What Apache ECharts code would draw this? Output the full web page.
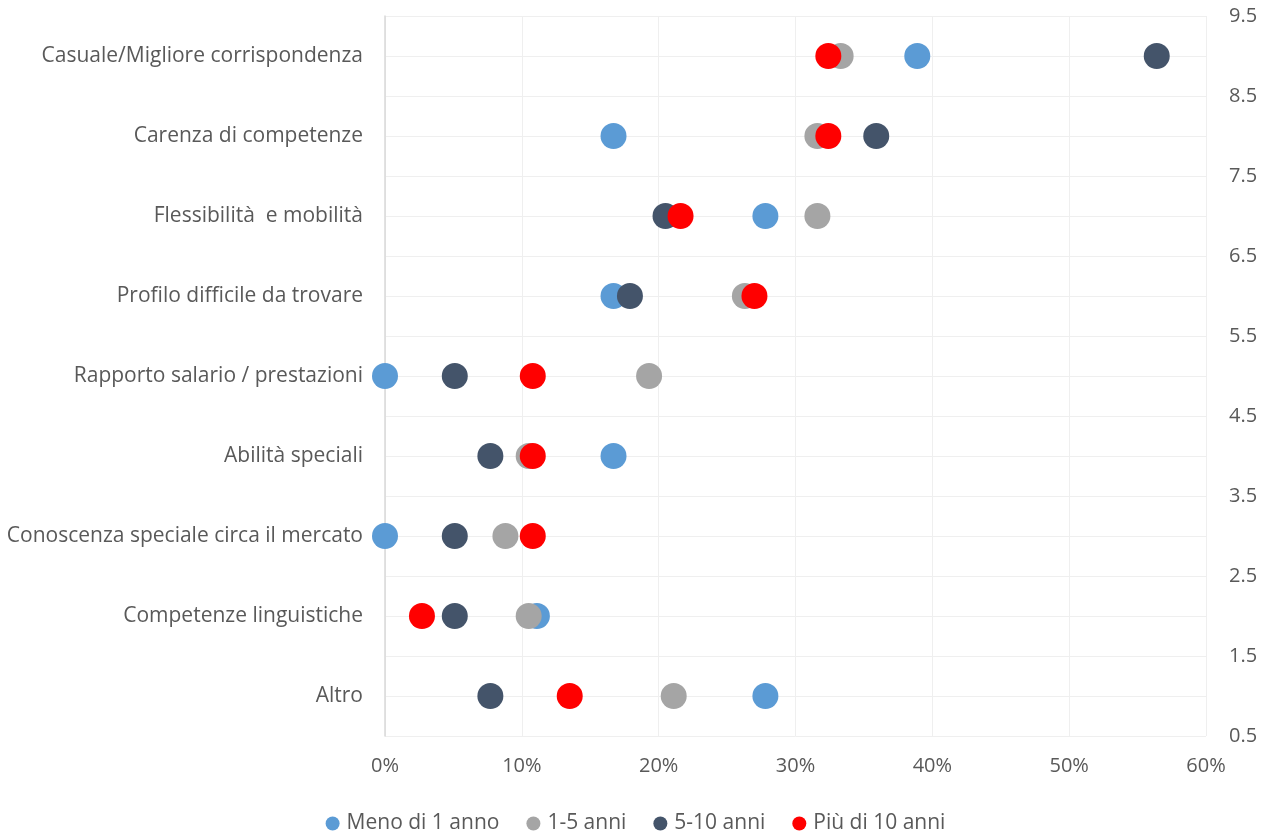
<!DOCTYPE html>
<html>
<head>
<meta charset="utf-8">
<script src="https://cdn.jsdelivr.net/npm/echarts@6/dist/echarts.min.js"></script>
<style>
html,body{margin:0;padding:0;background:#fff;}
#chart{width:1271px;height:832px;}
</style>
</head>
<body>
<div id="chart"></div>
<script>
// Categories, top to bottom
var categories = [
  'Casuale/Migliore corrispondenza',
  'Carenza di competenze',
  'Flessibilità  e mobilità',
  'Profilo difficile da trovare',
  'Rapporto salario / prestazioni',
  'Abilità speciali',
  'Conoscenza speciale circa il mercato',
  'Competenze linguistiche',
  'Altro'
];
var seriesNames = ['Meno di 1 anno', '1-5 anni', '5-10 anni', 'Più di 10 anni'];
// values (share), in the same order as categories
var meno1 = [0.389, 0.167, 0.278, 0.167, 0.000, 0.167, 0.000, 0.111, 0.278];
var anni1_5 = [0.333, 0.316, 0.316, 0.263, 0.193, 0.105, 0.088, 0.105, 0.211];
var anni5_10 = [0.564, 0.359, 0.205, 0.179, 0.051, 0.077, 0.051, 0.051, 0.077];
var piu10 = [0.324, 0.324, 0.216, 0.270, 0.108, 0.108, 0.108, 0.027, 0.135];
var xTicks = [0, 0.1, 0.2, 0.3, 0.4, 0.5, 0.6];
var colors = ['#5B9BD5', '#A5A5A5', '#44546A', '#FF0000'];

var n = categories.length;
function pts(arr) {
  return arr.map(function (v, i) { return [v, n - i]; });
}
var allValues = [meno1, anni1_5, anni5_10, piu10];
var font = "'Open Sans', 'Noto Sans', sans-serif";

var chart = echarts.init(document.getElementById('chart'), null, {renderer: 'canvas'});
chart.setOption({
  animation: false,
  backgroundColor: '#ffffff',
  grid: {left: 385, right: 65, top: 16, bottom: 96, containLabel: false},
  legend: {
    top: 808,
    left: 'center',
    icon: 'circle',
    itemWidth: 14,
    itemHeight: 14,
    itemGap: 27,
    textStyle: {color: '#595959', fontSize: 21, fontFamily: font, padding: [0, 0, 0, 2]},
    data: seriesNames
  },
  xAxis: {
    type: 'value',
    min: xTicks[0],
    max: xTicks[xTicks.length - 1],
    interval: 0.1,
    axisLine: {show: false},
    axisTick: {show: false},
    splitLine: {show: true, lineStyle: {color: '#efefef', width: 1}},
    axisLabel: {
      color: '#595959', fontSize: 20, fontFamily: font, margin: 20,
      formatter: function (v) { return Math.round(v * 100) + '%'; }
    }
  },
  yAxis: [{
    type: 'value',
    position: 'left',
    min: 0.5,
    max: 9.5,
    interval: 0.5,
    axisLine: {show: true, lineStyle: {color: '#d9d9d9', width: 1.5}},
    axisTick: {show: false},
    splitLine: {show: true, lineStyle: {color: '#efefef', width: 1}},
    axisLabel: {
      color: '#595959', fontSize: 21, fontFamily: font, margin: 22,
      formatter: function (v) {
        if (Math.abs(v - Math.round(v)) < 1e-6) {
          var idx = n - Math.round(v);
          return categories[idx] || '';
        }
        return '';
      }
    }
  }, {
    type: 'value',
    position: 'right',
    min: 0.5,
    max: 9.5,
    interval: 0.5,
    axisLine: {show: false},
    axisTick: {show: false},
    splitLine: {show: false},
    axisLabel: {
      color: '#595959', fontSize: 20, fontFamily: font, margin: 23,
      formatter: function (v) {
        if (Math.abs(v - Math.round(v)) > 1e-6) { return v.toFixed(1); }
        return '';
      }
    }
  }],
  series: seriesNames.map(function (name, k) {
    return {
      name: name,
      type: 'scatter',
      yAxisIndex: 0,
      symbol: 'circle',
      symbolSize: 26,
      itemStyle: {color: colors[k], opacity: 1},
      data: pts(allValues[k])
    };
  })
});
</script>
</body>
</html>
